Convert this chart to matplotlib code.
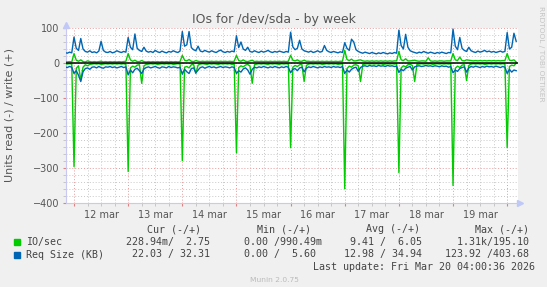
import matplotlib
matplotlib.use("Agg")
import matplotlib.pyplot as plt
import matplotlib.dates as mdates
import matplotlib.ticker as mticker
import pandas as pd

# hourly samples, Mar 11 20:00 -> Mar 20 04:00 (201 points)
times = pd.date_range("2026-03-11 20:00", periods=201, freq="h")

# IO/sec, read (drawn negative)
io_read = [
    -2, -3, -2, -3,
    # 12 mar
    -296, -15, -8, -49, -12, -5, -8, -4, -3, -2, -3, -2, -4, -3, -2, -3, -2, -3, -2, -3, -2, -3, -2, -4,
    # 13 mar
    -310, -14, -9, -12, -6, -5, -58, -8, -4, -3, -2, -3, -2, -4, -3, -2, -3, -2, -3, -2, -4, -3, -2, -3,
    # 14 mar
    -279, -12, -10, -14, -5, -4, -30, -6, -3, -2, -3, -4, -2, -3, -2, -3, -4, -2, -3, -2, -3, -2, -4, -3,
    # 15 mar
    -256, -13, -8, -11, -6, -4, -9, -58, -5, -3, -2, -3, -2, -3, -4, -2, -3, -2, -3, -4, -2, -3, -2, -3,
    # 16 mar
    -242, -12, -7, -10, -5, -4, -53, -7, -3, -2, -3, -2, -3, -2, -4, -3, -2, -3, -2, -3, -2, -4, -3, -2,
    # 17 mar
    -359, -16, -9, -12, -6, -5, -8, -53, -4, -3, -2, -3, -2, -3, -2, -3, -2, -4, -3, -2, -3, -2, -3, -2,
    # 18 mar
    -313, -14, -8, -11, -5, -4, -7, -53, -4, -3, -2, -3, -2, -3, -2, -4, -3, -2, -3, -2, -3, -2, -3, -2,
    # 19 mar
    -350, -15, -9, -13, -6, -5, -50, -7, -3, -2, -3, -2, -3, -2, -4, -3, -2, -3, -2, -3, -2, -3, -2, -3,
    # 20 mar
    -242, -10, -6, -8, -0.23,
]

# IO/sec, write (positive)
io_write = [
    4, 3, 4, 3,
    27, 8, 5, 9, 4, 3, 6, 4, 3, 4, 3, 4, 5, 3, 4, 3, 4, 3, 4, 3, 4, 3, 4, 5,
    27, 9, 5, 8, 4, 4, 7, 4, 3, 4, 3, 4, 3, 4, 3, 4, 3, 4, 3, 4, 3, 4, 3, 4,
    22, 8, 6, 10, 5, 4, 7, 5, 4, 5, 4, 5, 4, 5, 4, 5, 4, 5, 4, 5, 4, 5, 4, 5,
    22, 7, 5, 9, 5, 4, 6, 8, 4, 5, 4, 5, 4, 5, 4, 5, 4, 5, 4, 5, 4, 5, 4, 5,
    22, 8, 6, 9, 5, 5, 8, 5, 5, 4, 5, 4, 5, 4, 5, 4, 5, 4, 5, 4, 5, 4, 5, 5,
    36, 10, 7, 11, 6, 6, 8, 9, 6, 5, 6, 5, 6, 5, 6, 5, 6, 5, 6, 5, 6, 5, 6, 6,
    33, 9, 7, 12, 6, 6, 7, 8, 6, 5, 6, 6, 5, 15, 6, 5, 6, 5, 6, 6, 5, 6, 6, 6,
    27, 9, 7, 17, 7, 6, 9, 8, 7, 6, 7, 6, 7, 6, 7, 6, 7, 6, 7, 6, 7, 6, 7, 7,
    27, 8, 7, 9, 2.75,
]

# Req Size (KB), read (drawn negative)
req_read = [
    -11, -13, -10, -12,
    -30, -22, -35, -53, -25, -16, -14, -18, -12, -11, -14, -10, -13, -15, -11, -12, -10, -13, -11, -14, -12, -10, -13, -11,
    -34, -20, -28, -18, -15, -22, -30, -17, -13, -11, -14, -12, -10, -13, -15, -11, -12, -14, -10, -13, -11, -12, -14, -12,
    -32, -18, -25, -30, -16, -14, -28, -20, -13, -11, -15, -12, -10, -13, -11, -14, -12, -10, -13, -11, -12, -14, -11, -13,
    -30, -22, -26, -17, -14, -20, -32, -18, -12, -14, -11, -13, -10, -12, -14, -11, -13, -10, -12, -14, -11, -13, -10, -12,
    -28, -18, -16, -22, -14, -12, -25, -15, -11, -13, -10, -12, -14, -11, -13, -10, -12, -11, -13, -10, -12, -11, -13, -10,
    -30, -20, -26, -18, -14, -12, -24, -13, -9, -8, -10, -7, -9, -8, -10, -7, -9, -8, -10, -7, -9, -8, -10, -9,
    -27, -18, -22, -15, -12, -10, -20, -11, -9, -8, -10, -9, -7, -9, -8, -10, -8, -9, -11, -8, -10, -9, -12, -10,
    -28, -20, -24, -16, -13, -11, -26, -14, -10, -12, -9, -11, -13, -10, -12, -9, -11, -10, -12, -9, -11, -13, -10, -12,
    -30, -18, -26, -20, -22,
]

# Req Size (KB), write (positive)
req_write = [
    30, 28, 31, 29,
    74, 42, 36, 70, 40, 33, 31, 35, 30, 32, 29, 34, 62, 36, 31, 30, 33, 29, 31, 35, 32, 30, 33, 31,
    73, 45, 38, 83, 42, 36, 33, 45, 34, 31, 33, 30, 36, 32, 30, 34, 31, 29, 33, 31, 35, 32, 30, 34,
    90, 48, 52, 90, 44, 38, 35, 48, 34, 32, 36, 33, 31, 35, 32, 30, 34, 37, 32, 30, 33, 31, 34, 32,
    78, 44, 60, 40, 36, 45, 33, 31, 35, 32, 30, 34, 31, 33, 36, 32, 30, 33, 31, 34, 32, 30, 33, 31,
    88, 46, 38, 42, 65, 40, 35, 33, 31, 34, 30, 32, 35, 31, 33, 50, 36, 32, 30, 33, 31, 29, 32, 30,
    58, 42, 36, 68, 60, 38, 33, 30, 28, 31, 29, 27, 30, 28, 26, 29, 27, 30, 28, 26, 29, 27, 30, 28,
    94, 50, 40, 82, 45, 35, 32, 30, 28, 31, 29, 33, 30, 28, 31, 29, 27, 30, 28, 31, 29, 27, 30, 29,
    97, 48, 38, 73, 42, 36, 33, 45, 35, 32, 30, 34, 31, 33, 36, 32, 34, 31, 33, 30, 32, 34, 31, 33,
    87, 40, 45, 85, 62,
]

legend_rows = [
    ("IO/sec", "#00CC00", "228.94m/  2.75", "0.00 /990.49m", " 9.41 /  6.05", "  1.31k/195.10"),
    ("Req Size (KB)", "#0066B3", " 22.03 / 32.31", "0.00 /  5.60", "12.98 / 34.94", "123.92 /403.68"),
]

W, H = 547, 287
fig = plt.figure(figsize=(W / 100, H / 100), dpi=100, facecolor="#F0F0F0")
ax = fig.add_axes([66 / W, 1 - 203 / H, 452 / W, 175 / H])
ax.set_facecolor("white")

green, blue = "#00CC00", "#0066B3"
ax.plot(times, io_read, color=green, lw=1.0, zorder=3)
ax.plot(times, io_write, color=green, lw=1.0, zorder=3)
ax.plot(times, req_read, color=blue, lw=1.0, zorder=4)
ax.plot(times, req_write, color=blue, lw=1.0, zorder=4)
ax.axhline(0, color="black", lw=1.1, zorder=5)

ax.set_ylim(-400, 100)
ax.set_xlim(pd.Timestamp("2026-03-11 20:27"), pd.Timestamp("2026-03-20 04:48"))

ax.yaxis.set_major_locator(mticker.MultipleLocator(100))
ax.yaxis.set_minor_locator(mticker.MultipleLocator(20))
ax.xaxis.set_major_locator(mdates.DayLocator())
ax.xaxis.set_minor_locator(mdates.HourLocator(byhour=[6, 12, 18]))
ax.xaxis.set_major_formatter(mticker.NullFormatter())


def day_label(v, pos):
    d = mdates.num2date(v)
    if d.hour == 12:
        return f"{d.day} {d.strftime('%b').lower()}"
    return ""


ax.xaxis.set_minor_formatter(mticker.FuncFormatter(day_label))

dot = (0, (1, 2))
ax.grid(which="major", color="#E89A9A", lw=0.7, ls=dot, zorder=1)
ax.grid(which="minor", color="#C8C8C8", lw=0.7, ls=dot, zorder=0)
ax.set_axisbelow(True)

ax.tick_params(which="both", direction="out", labelsize=7, labelcolor="#555555")
ax.tick_params(which="major", length=2, color="#E08080")
ax.tick_params(which="minor", length=2, color="#C0C0C0")
ax.tick_params(axis="y", pad=2.5)
ax.tick_params(axis="x", which="minor", pad=3)

for side in ("top", "right"):
    ax.spines[side].set_visible(False)
for side in ("left", "bottom"):
    ax.spines[side].set_color("#C8C8F0")
    ax.spines[side].set_linewidth(0.8)
ax.plot([1.005], [0], marker=">", ms=4, color="#C0C8F8", transform=ax.transAxes, clip_on=False)
ax.plot([0], [1.02], marker="^", ms=4, color="#C0C8F8", transform=ax.transAxes, clip_on=False)


def px(x, y):
    return x / W, 1 - y / H


fig.text(*px(274, 20), "IOs for /dev/sda - by week", ha="center", va="center",
         fontsize=9, color="#555555")
fig.text(*px(10, 115), "Units read (-) / write (+)", ha="center", va="center",
         rotation=90, fontsize=8, color="#555555")
fig.text(*px(541, 54), "RRDTOOL / TOBI OETIKER", ha="center", va="center",
         rotation=270, fontsize=5.4, color="#C4C4C4")

mono = dict(family="DejaVu Sans Mono", fontsize=7.2, color="#444444", va="center")
for x, h in [(147, "Cur (-/+)"), (257, "Min (-/+)"), (366, "Avg (-/+)"), (475, "Max (-/+)")]:
    fig.text(*px(x, 229), h, ha="left", **mono)

for i, (name, col, cur, mn, avg, mx) in enumerate(legend_rows):
    y = 242 + i * 12.5
    fig.patches.append(plt.Rectangle(px(14, y + 3), 6 / W, 6 / H, color=col,
                                     transform=fig.transFigure, figure=fig))
    fig.text(*px(26, y), name, ha="left", **mono)
    fig.text(*px(125.5, y), cur, ha="left", **mono)
    fig.text(*px(244, y), mn, ha="left", **mono)
    fig.text(*px(344, y), avg, ha="left", **mono)
    fig.text(*px(445, y), mx, ha="left", **mono)

fig.text(*px(313, 267), "Last update: Fri Mar 20 04:00:36 2026", ha="left", **mono)
fig.text(*px(274, 280), "Munin 2.0.75", ha="center", va="center", fontsize=5.4, color="#BBBBBB")

fig.savefig("out.png", dpi=100, facecolor=fig.get_facecolor())
